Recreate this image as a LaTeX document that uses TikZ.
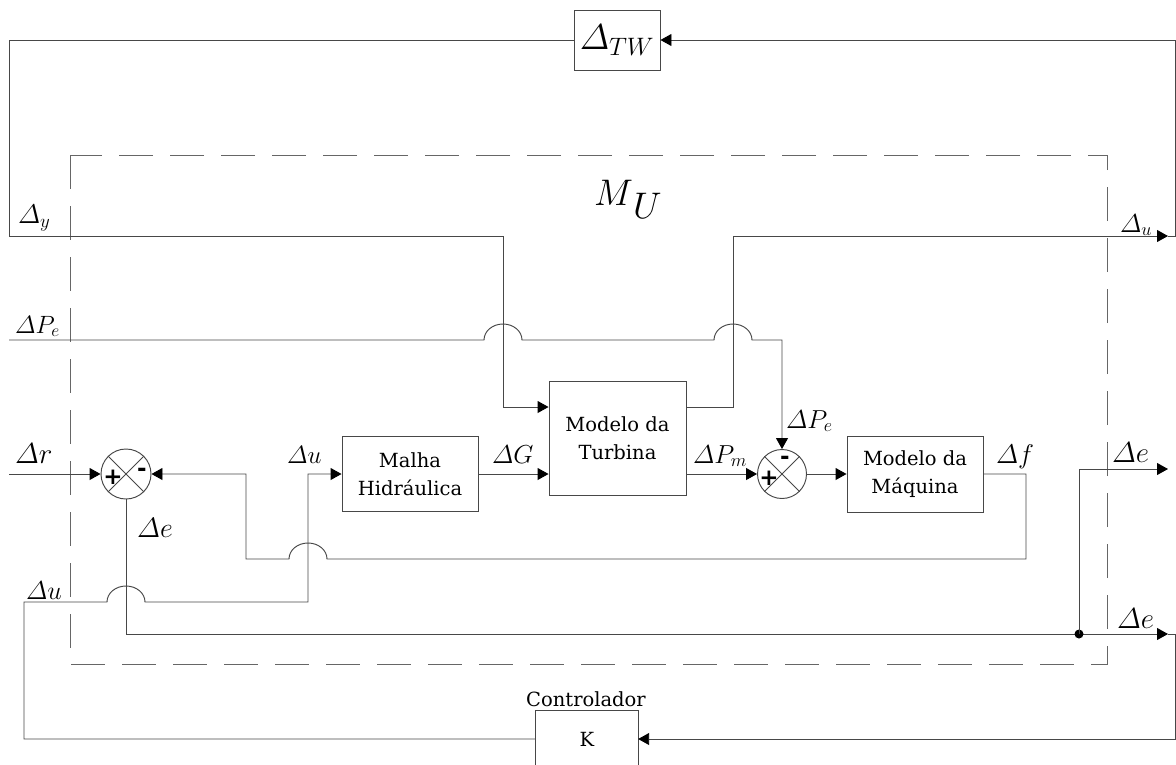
\RequirePackage{fix-cm}
\documentclass[tikz,border=0pt]{standalone}
\usepackage{amsmath}
\usepackage{fontspec}
\newfontfamily\blkfont{DejaVu Serif}
\newfontfamily\sgnfont{DejaVu Sans}
\usetikzlibrary{arrows.meta,calc}

\tikzset{
  wire/.style={draw=black!72, line width=0.95pt},
  arr/.style={wire, -{Triangle[length=11pt,width=12pt,color=black]}},
  txt/.style={font={\blkfont\fontsize{19.5}{28}\selectfont}},
  block/.style={draw=black!72, line width=0.95pt, align=center, inner sep=0pt, txt},
  sumj/.style={circle, draw=black!72, line width=0.95pt, minimum size=50pt, inner sep=0pt},
  sgn/.style={inner sep=0pt, font={\sgnfont\bfseries\fontsize{23}{23}\selectfont}},
  lab/.style={anchor=base west, inner sep=0pt},
  frame/.style={draw=black!60, line width=0.95pt, dash pattern=on 34pt off 17pt},
}

\begin{document}
\begin{tikzpicture}[x=1pt, y=-1pt]
\useasboundingbox (0,0) rectangle (1176,764);

% plant boundary M_U
\draw[frame] (70,155) rectangle (1107,664);
\node[lab, font={\fontsize{37}{37}\selectfont}] (mu) at (594,205) {$M\raisebox{-13pt}{$U$}$};

% blocks
\node[block, minimum width=86pt, minimum height=60pt, font={\fontsize{36}{36}\selectfont}] (tw) at (617,40) {$\varDelta_{TW}$};
\node[block, minimum width=136pt, minimum height=75pt] (malha) at (410,474) {Malha\\Hidráulica};
\node[block, minimum width=137pt, minimum height=114pt] (turb) at (617.5,438) {Modelo da\\Turbina};
\node[block, minimum width=136pt, minimum height=76pt] (maq) at (915,474) {Modelo da\\Máquina};

% summing junctions
\node[sumj] (s1) at (126,474) {};
\draw[wire, line width=0.8pt] (s1.north west) -- (s1.south east) (s1.north east) -- (s1.south west);
\node[sgn] at (113,477) {+};
\node[sgn] at (142,472) {-};
\node[sumj, minimum size=49pt] (s2) at (782,474) {};
\draw[wire, line width=0.8pt] (s2.north west) -- (s2.south east) (s2.north east) -- (s2.south west);
\node[sgn] at (785,460) {-};
\node[sgn] at (769,478) {+};

% controller
\node[inner sep=0pt, minimum width=102pt, minimum height=56pt, txt] (ctrl) at (587,739) {K};
\draw[wire] (ctrl.south west) -- (ctrl.north west) -- (ctrl.north east) -- (ctrl.south east);
\node[anchor=base, inner sep=0pt, txt] (ctrlname) at (586,706) {Controlador};

% free ends
\coordinate (inR) at (9,474);
\coordinate (inPe) at (9,340);
\coordinate (ou) at (1168,236);
\coordinate (oe1) at (1168,469);
\coordinate (oe2) at (1168,634);
\coordinate (tap) at (1079,634);

% signal lines
\draw[arr] (inR) -- (s1.west);
\draw[arr] (inPe) -- (484,340) arc[start angle=180,end angle=0,x radius=19pt,y radius=16pt]
  -- (714,340) arc[start angle=180,end angle=0,x radius=19pt,y radius=16pt]
  -- (782,340) -- (s2.north);
\draw[arr] (tw.west) -- (9,40) -- (9,236) -- (503,236) -- (503,407) -- ([yshift=31pt]turb.west);
\draw[arr] ([yshift=31pt]turb.east) -- (733,407) -- (733,236) -- (ou);
\draw[arr] (ou) -- (1175,236) -- (1175,40) -- (tw.east);
\draw[arr] (malha.east) -- (malha.east -| turb.west);
\draw[arr] ([yshift=-36pt]turb.east) -- (s2.west);
\draw[arr] (s2.east) -- (maq.west);
\draw[arr] (maq.east) -- (1026,474) -- (1026,559) -- (327,559)
  arc[start angle=0,end angle=180,x radius=19pt,y radius=16pt]
  -- (246,559) -- (246,474) -- (s1.east);
\draw[arr] (ctrl.west) -- (24,739) -- (24,602) -- (107,602)
  arc[start angle=180,end angle=0,x radius=19pt,y radius=16pt]
  -- (308,602) -- (308,474) -- (malha.west);
\draw[arr] (s1.south) -- (126,634) -- (oe2);
\draw[arr] (oe2) -- (1175,634) -- (1175,739) -- (ctrl.east);
\fill[black] (tap) circle (4.5pt);
\draw[arr] (tap) -- (1079,469) -- (oe1);

% signal labels
\node[lab, font={\fontsize{25}{25}\selectfont}] (lpe1) at (15,333) {$\varDelta P_e$};
\node[lab, font={\fontsize{29}{29}\selectfont}] (lr) at (15,463) {$\varDelta r$};
\node[lab, font={\fontsize{28}{28}\selectfont}] (le1) at (137,537) {$\varDelta e$};
\node[lab, font={\fontsize{25}{25}\selectfont}] (lu1) at (287,463) {$\varDelta u$};
\node[lab, font={\fontsize{26}{26}\selectfont}] (lg) at (492,463) {$\varDelta G$};
\node[lab, font={\fontsize{26}{26}\selectfont}] (lpm) at (693,463) {$\varDelta P_m$};
\node[lab, font={\fontsize{26}{26}\selectfont}] (lpe2) at (786,428) {$\varDelta P_e$};
\node[lab, font={\fontsize{27}{27}\selectfont}] (lf) at (996,463) {$\varDelta f$};
\node[lab, font={\fontsize{29}{29}\selectfont}] (le2) at (1112,462) {$\varDelta e$};
\node[lab, font={\fontsize{29}{29}\selectfont}] (le3) at (1117,628) {$\varDelta e$};
\node[lab, font={\fontsize{26}{26}\selectfont}] (lu2) at (26,599) {$\varDelta u$};
\node[lab, font={\fontsize{27}{27}\selectfont}] (ly) at (18,223) {$\varDelta_y$};
\node[lab, font={\fontsize{26}{26}\selectfont}] (lu3) at (1120,232) {$\varDelta_u$};
\end{tikzpicture}
\end{document}
